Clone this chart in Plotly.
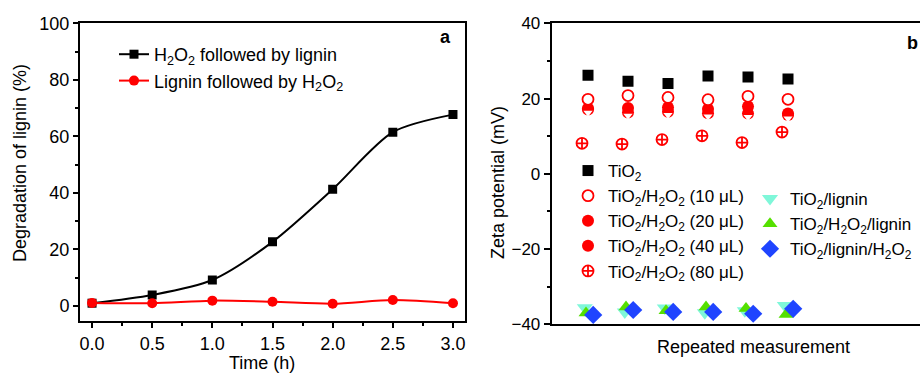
import plotly.graph_objects as go

# ---- panel a: lignin degradation vs time ----
time_h = [0.0, 0.5, 1.0, 1.5, 2.0, 2.5, 3.0]
h2o2_then_lignin = [1.0, 3.9, 9.2, 22.7, 41.3, 61.5, 67.7]
lignin_then_h2o2 = [1.1, 1.0, 1.9, 1.5, 0.8, 2.1, 1.0]

# ---- panel b: zeta potential over repeated measurements ----
measurement = [1, 2, 3, 4, 5, 6]
zeta_tio2 = [26.2, 24.6, 24.0, 26.0, 25.7, 25.2]
zeta_h2o2_10 = [19.8, 20.8, 20.3, 19.7, 20.6, 19.8]
zeta_h2o2_20 = [17.4, 17.5, 17.6, 17.2, 17.9, 16.0]
zeta_h2o2_40 = [17.1, 16.3, 16.5, 16.1, 16.0, 15.6]
zeta_h2o2_80 = [8.1, 7.9, 9.1, 10.1, 8.3, 11.1]
zeta_lignin = [-35.6, -36.7, -35.7, -36.9, -36.4, -35.0]
zeta_h2o2_lignin = [-37.0, -35.4, -36.4, -35.4, -35.8, -37.4]
zeta_lignin_h2o2 = [-37.5, -36.2, -36.7, -36.7, -37.2, -35.9]

FONT = "Liberation Sans, Arial, sans-serif"
RED = "#ff0000"
CYAN = "#7ff7d9"
GREEN = "#55e000"
BLUE = "#1f44ff"

fig = go.Figure()

# panel a traces
fig.add_trace(go.Scatter(
    x=time_h, y=h2o2_then_lignin, mode="lines+markers",
    name="H<sub>2</sub>O<sub>2</sub> followed by lignin",
    line=dict(color="black", width=2, shape="spline", smoothing=0.8),
    marker=dict(symbol="square", size=9, color="black"),
    xaxis="x", yaxis="y", legend="legend", legendgroup="a1"))
fig.add_trace(go.Scatter(
    x=time_h, y=lignin_then_h2o2, mode="lines+markers",
    name="Lignin followed by H<sub>2</sub>O<sub>2</sub>",
    line=dict(color=RED, width=2, shape="spline", smoothing=0.8),
    marker=dict(symbol="circle", size=10, color=RED),
    xaxis="x", yaxis="y", legend="legend", legendgroup="a2"))


def shifted(xs, dx):
    return [v + dx for v in xs]


TIO2 = "TiO<sub>2</sub>"
H2O2 = "H<sub>2</sub>O<sub>2</sub>"
SUB = TIO2 + "/" + H2O2

# panel b traces (x offsets keep overlapping series readable)
fig.add_trace(go.Scatter(
    x=measurement, y=zeta_tio2, mode="markers", name=TIO2,
    marker=dict(symbol="square", size=11, color="black"),
    xaxis="x2", yaxis="y2", legend="legend2", legendrank=1))
fig.add_trace(go.Scatter(
    x=measurement, y=zeta_h2o2_20, mode="markers", name=SUB + " (20 \u03bcL)",
    marker=dict(symbol="circle", size=12, color=RED),
    xaxis="x2", yaxis="y2", legend="legend2", legendrank=3))
fig.add_trace(go.Scatter(
    x=measurement, y=zeta_h2o2_40, mode="markers", name=SUB + " (40 \u03bcL)",
    marker=dict(symbol="circle", size=12, color=RED),
    xaxis="x2", yaxis="y2", legend="legend2", legendrank=4))
# white notch of the half-filled 40 uL symbol
fig.add_trace(go.Scatter(
    x=measurement, y=shifted(zeta_h2o2_40, -0.9), mode="markers",
    marker=dict(symbol="triangle-down", size=8, color="white"),
    xaxis="x2", yaxis="y2", showlegend=False, hoverinfo="skip"))
fig.add_trace(go.Scatter(
    x=measurement, y=zeta_h2o2_10, mode="markers", name=SUB + " (10 \u03bcL)",
    marker=dict(symbol="circle", size=11, color="white",
                line=dict(color=RED, width=1.8)),
    xaxis="x2", yaxis="y2", legend="legend2", legendrank=2))
fig.add_trace(go.Scatter(
    x=shifted(measurement, -0.15), y=zeta_h2o2_80, mode="markers",
    name=SUB + " (80 \u03bcL)",
    marker=dict(symbol="circle-cross-open", size=11, color=RED,
                line=dict(color=RED, width=1.8)),
    xaxis="x2", yaxis="y2", legend="legend2", legendrank=5))
fig.add_trace(go.Scatter(
    x=shifted(measurement, -0.08), y=zeta_lignin, mode="markers",
    name=TIO2 + "/lignin",
    marker=dict(symbol="triangle-down", size=14, color=CYAN),
    xaxis="x2", yaxis="y2", legend="legend3", legendrank=1))
fig.add_trace(go.Scatter(
    x=shifted(measurement, -0.05), y=zeta_h2o2_lignin, mode="markers",
    name=SUB + "/lignin",
    marker=dict(symbol="triangle-up", size=13, color=GREEN),
    xaxis="x2", yaxis="y2", legend="legend3", legendrank=2))
fig.add_trace(go.Scatter(
    x=shifted(measurement, 0.13), y=zeta_lignin_h2o2, mode="markers",
    name=TIO2 + "/lignin/" + H2O2,
    marker=dict(symbol="diamond", size=14, color=BLUE),
    xaxis="x2", yaxis="y2", legend="legend3", legendrank=3))

W, H = 920, 373


def px_x(p):
    return p / W


def px_y(p):
    return 1 - p / H


axis_common = dict(showgrid=False, zeroline=False, linecolor="black", linewidth=2,
                   tickcolor="black", tickwidth=1.5, ticks="outside",
                   automargin=False,
                   tickfont=dict(family=FONT, size=18, color="black"))

fig.update_layout(
    template="none",
    width=W, height=H, margin=dict(l=0, r=0, t=0, b=0, pad=0),
    paper_bgcolor="white", plot_bgcolor="white",
    font=dict(family=FONT, color="black", size=18),
    xaxis=dict(domain=[px_x(80), px_x(465)], range=[-0.1, 3.1],
               tickvals=[0, 0.5, 1, 1.5, 2, 2.5, 3],
               ticktext=["0.0", "0.5", "1.0", "1.5", "2.0", "2.5", "3.0"],
               ticklen=5, mirror=True, anchor="y",
               minor=dict(dtick=0.25, tick0=0, ticklen=3, ticks="outside",
                          tickcolor="black", tickwidth=1.5),
               **axis_common),
    yaxis=dict(domain=[px_y(321), px_y(23.3)], range=[-5.3, 100],
               tickvals=[0, 20, 40, 60, 80, 100], ticklen=5, mirror=True,
               anchor="x",
               minor=dict(dtick=10, tick0=0, ticklen=3, ticks="outside",
                          tickcolor="black", tickwidth=1.5),
               **axis_common),
    xaxis2=dict(domain=[px_x(551.7), 1.0], range=[0.0925, 9.3],
                showticklabels=False, mirror=True, anchor="y2",
                **{**axis_common, "ticks": ""}),
    yaxis2=dict(domain=[px_y(324.3), px_y(23.3)], range=[-40, 40],
                tickvals=[-40, -20, 0, 20, 40], ticklen=6, mirror=False,
                anchor="x2",
                minor=dict(dtick=10, tick0=0, ticklen=3, ticks="outside",
                           tickcolor="black", tickwidth=1.5),
                **{**axis_common, "tickfont": dict(family=FONT, size=17, color="black")}),
    legend=dict(x=px_x(114), y=px_y(36), xanchor="left", yanchor="top",
                bgcolor="rgba(0,0,0,0)", font=dict(family=FONT, size=18),
                tracegroupgap=0, itemwidth=30),
    legend2=dict(x=px_x(568), y=px_y(153), xanchor="left", yanchor="top",
                 bgcolor="rgba(0,0,0,0)", font=dict(family=FONT, size=17),
                 tracegroupgap=0, itemwidth=30, traceorder="normal"),
    legend3=dict(x=px_x(750), y=px_y(181), xanchor="left", yanchor="top",
                 bgcolor="rgba(0,0,0,0)", font=dict(family=FONT, size=17),
                 tracegroupgap=0, itemwidth=30),
    showlegend=True,
)

annotations = [
    dict(text="Degradation of lignin (%)", x=px_x(20), y=px_y(163), textangle=-90),
    dict(text="Time (h)", x=px_x(262), y=px_y(363)),
    dict(text="Zeta potential (mV)", x=px_x(498), y=px_y(183), textangle=-90),
    dict(text="Repeated measurement", x=px_x(753), y=px_y(347)),
    dict(text="<b>a</b>", x=px_x(445), y=px_y(37)),
    dict(text="<b>b</b>", x=px_x(912), y=px_y(43)),
]
fig.update_layout(annotations=[
    dict(xref="paper", yref="paper", showarrow=False, xanchor="center",
         yanchor="middle", font=dict(family=FONT, size=18, color="black"), **a)
    for a in annotations
])

fig.write_html("out.html")
